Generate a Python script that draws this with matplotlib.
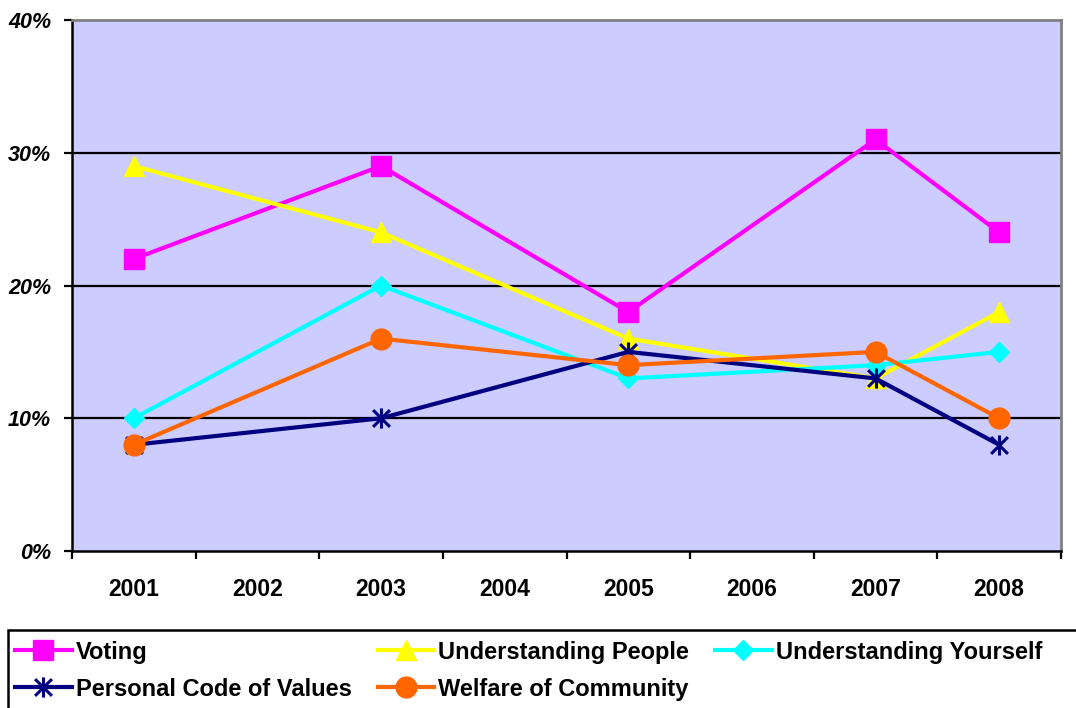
""" Line chart of survey responses by year, Excel style.
"""

import numpy as np
import matplotlib.pyplot as plt
from matplotlib.path import Path
from matplotlib.patches import Rectangle

# data
years = ["2001", "2002", "2003", "2004", "2005", "2006", "2007", "2008"]
obs_years = ["2001", "2003", "2005", "2007", "2008"]

voting = [22, 29, 18, 31, 24]
understanding_people = [29, 24, 16, 13, 18]
understanding_yourself = [10, 20, 13, 14, 15]
personal_code = [8, 10, 15, 13, 8]
welfare = [8, 16, 14, 15, 10]

yticks = [0, 10, 20, 30, 40]

# asterisk marker: X plus vertical bar
star_path = Path(
    [(-1, -1), (1, 1), (-1, 1), (1, -1), (0, -1.2), (0, 1.2)],
    [Path.MOVETO, Path.LINETO, Path.MOVETO, Path.LINETO, Path.MOVETO, Path.LINETO],
)

plt.rcParams["font.family"] = ["Liberation Sans", "DejaVu Sans"]
plt.rcParams["font.weight"] = "bold"

W, H = 1076, 708
fig = plt.figure(figsize=(W / 100, H / 100), dpi=100)
ax = fig.add_axes([72 / W, 1 - 551 / H, (1061 - 72) / W, (551 - 20) / H])
ax.set_facecolor("#CCCCFF")

x = [years.index(y) for y in obs_years]

series = [
    ("Voting", voting, "#FF00FF", dict(marker="s", ms=14)),
    ("Understanding People", understanding_people, "#FFFF00", dict(marker="^", ms=15)),
    ("Understanding Yourself", understanding_yourself, "#00FFFF", dict(marker="D", ms=10.5)),
    ("Personal Code of Values", personal_code, "#000080",
     dict(marker=star_path, ms=14.5, mew=2.2, mfc="none")),
    ("Welfare of Community", welfare, "#FF6600", dict(marker="o", ms=15)),
]

handles = {}
for name, vals, col, mk in series:
    ln, = ax.plot(x, vals, color=col, lw=3, mec=col, mfc=mk.pop("mfc", col),
                  label=name, zorder=3, **mk)
    handles[name] = ln

# gridlines
for yv in yticks[1:-1]:
    ax.axhline(yv, color="black", lw=1.6, zorder=1)

ax.set_xlim(-0.5, len(years) - 0.5)
ax.set_ylim(0, 40)

ax.set_yticks(yticks)
ax.set_yticklabels([f"{v}%" for v in yticks], fontsize=15.5, style="italic", fontweight="bold")
ax.tick_params(axis="y", direction="out", length=5.5, width=1.6, pad=9.5)

ax.set_xticks(np.arange(len(years) + 1) - 0.5)
ax.set_xticklabels([])
ax.set_xticks(np.arange(len(years)), minor=True)
ax.set_xticklabels(years, minor=True, fontsize=16.5, fontweight="bold")
ax.tick_params(axis="x", which="major", direction="out", length=5.5, width=1.6)
ax.tick_params(axis="x", which="minor", length=0, pad=19.5)

for side in ["left", "bottom"]:
    ax.spines[side].set_color("black")
    ax.spines[side].set_linewidth(1.8)
for side in ["top", "right"]:
    ax.spines[side].set_color("#808080")
    ax.spines[side].set_linewidth(2)

# legend, column-major order
order = ["Voting", "Personal Code of Values", "Understanding People",
         "Welfare of Community", "Understanding Yourself"]
leg = fig.legend([handles[n] for n in order], order, ncol=3,
                 loc="upper left", bbox_to_anchor=(8 / W, 1 - 633.5 / H),
                 prop={"size": 17, "weight": "bold"}, frameon=False,
                 handlelength=2.4, handletextpad=0.17, columnspacing=1.1,
                 labelspacing=0.6, borderpad=0.3, borderaxespad=0)

# legend box runs off the right and bottom edges of the figure
fig.patches.append(Rectangle((8 / W, -10 / H), (1100 - 8) / W, (708 - 630 + 10) / H,
                             transform=fig.transFigure, fill=False,
                             edgecolor="black", lw=1.8, clip_on=False))

fig.savefig("out.png", dpi=100)
